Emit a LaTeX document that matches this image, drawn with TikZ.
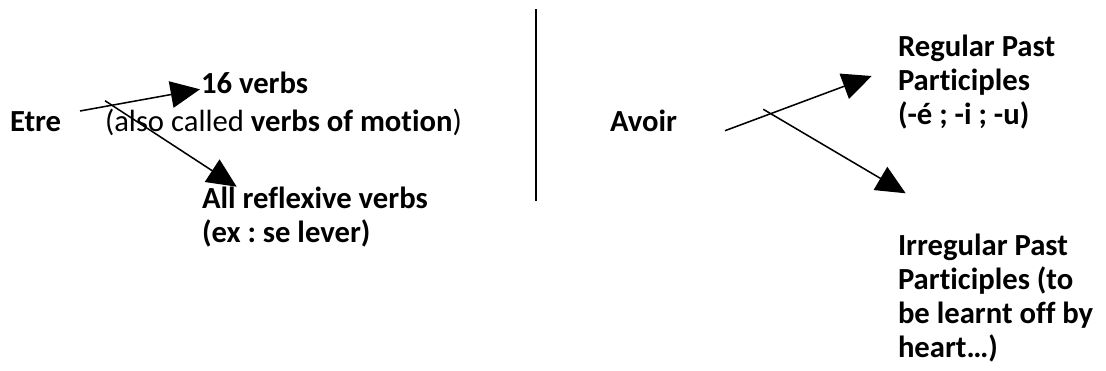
\documentclass[tikz,border=0pt]{standalone}
\usepackage{fontspec}
\setmainfont{Carlito}[Ligatures={NoCommon}]
\usetikzlibrary{arrows.meta}
\frenchspacing
\tikzset{
  lbl/.style={inner sep=0pt, outer sep=0pt, anchor=base west, align=left,
    font=\fontsize{23}{25.5}\selectfont\bfseries},
  plain/.style={inner sep=0pt, outer sep=0pt, anchor=base west,
    font=\fontsize{23}{25.5}\selectfont},
  arr/.style={line width=1.15pt, -{Triangle[length=22pt,width=20pt]}},
  sep/.style={line width=1.25pt}
}
\begin{document}
\begin{tikzpicture}[x=0.75pt,y=-0.75pt]
\useasboundingbox (0,0) rectangle (1106,371);
% left part
\node[lbl] (etre) at (10,131) {Etre};
\node[plain] (also) at (105,131) {(also called \textbf{verbs of motion})};
\node[lbl] (sixteen) at (201,93) {16 verbs};
\node[lbl] (refl) at (202,242) {All reflexive verbs\\(ex : se lever)};
\coordinate (e1) at (80,111);
\coordinate (e1t) at (200,89.3);
\coordinate (e2) at (105,100.7);
\coordinate (e2t) at (236.7,186.7);
\draw[arr] (e1) -- (e1t);
\draw[arr] (e2) -- (e2t);
% separator
\coordinate (s1) at (535.7,9);
\coordinate (s2) at (535.7,201);
\draw[sep] (s1) -- (s2);
% right part
\node[lbl] (avoir) at (610,131) {Avoir};
\node[lbl] (reg) at (898,124) {Regular Past\\Participles\\(-é ; -i ; -u)};
\node[lbl] (irr) at (898,357) {Irregular Past\\Participles (to\\be learnt off by\\heart…)};
\coordinate (a1) at (725,130.7);
\coordinate (a1t) at (871.7,76);
\coordinate (a2) at (763.3,109.3);
\coordinate (a2t) at (905.7,193.3);
\draw[arr] (a1) -- (a1t);
\draw[arr] (a2) -- (a2t);
\end{tikzpicture}
\end{document}
